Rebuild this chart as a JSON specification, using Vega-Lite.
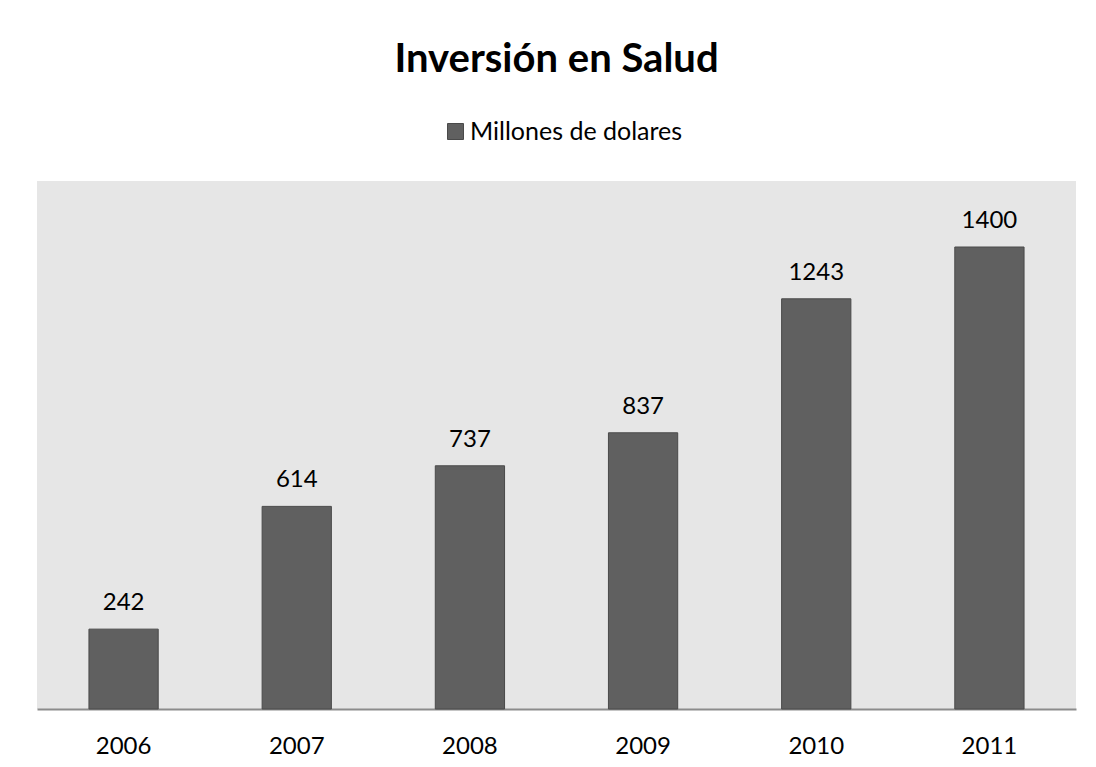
{
  "$schema": "https://vega.github.io/schema/vega-lite/v6.json",
  "width": 1039,
  "height": 528,
  "autosize": {"type": "none"},
  "padding": {"left": 37, "top": 181, "right": 20, "bottom": 58},
  "background": "#ffffff",
  "title": {
    "text": "Inversión en Salud",
    "font": "Lato",
    "fontSize": 40,
    "fontWeight": "bold",
    "color": "#000000",
    "anchor": "middle",
    "baseline": "alphabetic",
    "offset": 7
  },
  "data": {
    "values": [
      {"year": "2006", "value": 242, "serie": "Millones de dolares"},
      {"year": "2007", "value": 614, "serie": "Millones de dolares"},
      {"year": "2008", "value": 737, "serie": "Millones de dolares"},
      {"year": "2009", "value": 837, "serie": "Millones de dolares"},
      {"year": "2010", "value": 1243, "serie": "Millones de dolares"},
      {"year": "2011", "value": 1400, "serie": "Millones de dolares"}
    ]
  },
  "encoding": {
    "x": {
      "field": "year",
      "type": "nominal",
      "scale": {"paddingInner": 0.6, "paddingOuter": 0.3},
      "axis": {
        "title": null,
        "labelAngle": 0,
        "labelFont": "Lato",
        "labelFontSize": 24,
        "labelColor": "#000000",
        "labelBaseline": "alphabetic",
        "labelPadding": 44,
        "ticks": false,
        "tickSize": 0,
        "domainColor": "#8c8c8c",
        "domainWidth": 2,
        "grid": false
      }
    },
    "y": {
      "field": "value",
      "type": "quantitative",
      "scale": {"domain": [0, 1600], "nice": false},
      "axis": null
    }
  },
  "layer": [
    {
      "mark": {"type": "bar", "stroke": "#4a4a4a", "strokeWidth": 1},
      "encoding": {
        "color": {
          "field": "serie",
          "type": "nominal",
          "scale": {"range": ["#606060"]},
          "legend": {
            "title": null,
            "orient": "none",
            "legendX": 406,
            "legendY": -62,
            "padding": 0,
            "symbolType": "square",
            "symbolSize": 256,
            "symbolStrokeColor": "#4a4a4a",
            "symbolStrokeWidth": 1,
            "symbolOpacity": 1,
            "symbolFillColor": "#606060",
            "labelFont": "Lato",
            "labelFontSize": 25,
            "labelColor": "#000000",
            "labelOffset": 2,
            "labelLimit": 400
          }
        }
      }
    },
    {
      "mark": {
        "type": "text",
        "font": "Lato",
        "fontSize": 24,
        "color": "#000000",
        "baseline": "alphabetic",
        "dy": -19
      },
      "encoding": {
        "text": {"field": "value", "type": "quantitative"}
      }
    }
  ],
  "config": {
    "view": {"fill": "#e6e6e6", "stroke": null}
  }
}
